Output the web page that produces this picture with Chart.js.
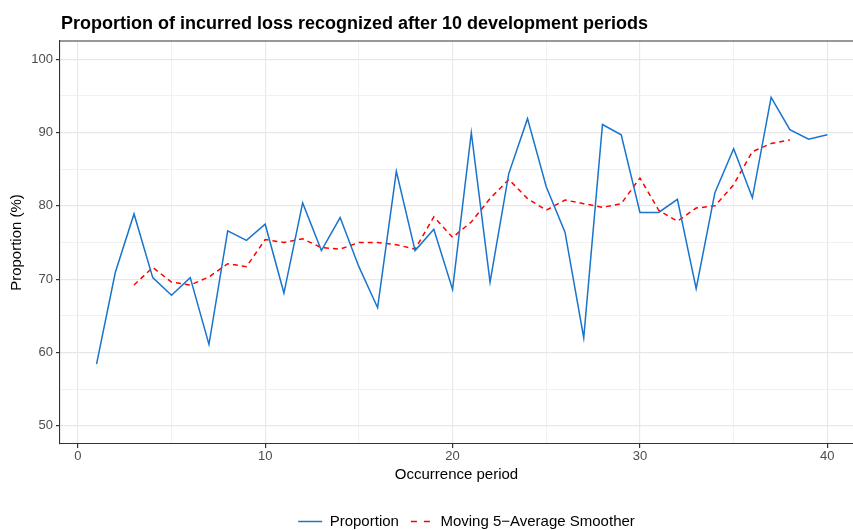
<!DOCTYPE html>
<html>
<head>
<meta charset="utf-8">
<script src="https://cdn.jsdelivr.net/npm/chart.js@4"></script>
<style>
  html, body { margin: 0; padding: 0; background: #fff; }
  #wrap { width: 853px; height: 530px; position: relative; }
</style>
</head>
<body>
<div id="wrap"><canvas id="lossChart"></canvas></div>
<script>
// occurrence periods and values
const periods = [1, 2, 3, 4, 5, 6, 7, 8, 9, 10, 11, 12, 13, 14, 15, 16, 17, 18, 19, 20,
                 21, 22, 23, 24, 25, 26, 27, 28, 29, 30, 31, 32, 33, 34, 35, 36, 37, 38, 39, 40];
const proportion = [58.4, 70.9, 78.9, 70.2, 67.8, 70.2, 61.1, 76.6, 75.3, 77.5,
                    68.1, 80.4, 73.9, 78.4, 71.7, 66.1, 84.7, 73.9, 76.8, 68.6,
                    90.0, 69.6, 84.4, 91.9, 82.6, 76.4, 62.0, 91.1, 89.7, 79.1,
                    79.1, 80.9, 68.7, 81.8, 87.8, 81.1, 94.8, 90.4, 89.1, 89.7];
// moving average: no value for the first two and last two periods
const smoother = [null, null, 69.2, 71.6, 69.6, 69.2, 70.3, 72.1, 71.7, 75.4,
                  75.0, 75.5, 74.3, 74.1, 75.0, 75.0, 74.7, 74.1, 78.5, 75.7,
                  77.8, 81.0, 83.6, 81.0, 79.4, 80.8, 80.3, 79.8, 80.3, 83.8,
                  79.4, 77.9, 79.7, 80.0, 82.9, 87.4, 88.5, 89.0, null, null];
const xTicks = [0, 5, 10, 15, 20, 25, 30, 35, 40];
const yTicks = [50, 55, 60, 65, 70, 75, 80, 85, 90, 95, 100];

const FONT = '"Liberation Sans", Arial, Helvetica, sans-serif';
Chart.defaults.font.family = FONT;

const isMajor = (v) => v % 10 === 0;
const gridColor = (ctx) => isMajor(ctx.tick.value) ? '#e8e8e8' : '#efefef';
const gridWidth = (ctx) => isMajor(ctx.tick.value) ? 1.2 : 0.9;
const tickColor = (ctx) => isMajor(ctx.tick.value) ? '#333333' : 'rgba(0,0,0,0)';

// title text, top panel border, and legend centred on the full panel
const decorations = {
  id: 'decorations',
  afterLayout(chart) {
    // the panel runs past the right edge, so centre the legend on it
    chart.legend.left += 40;
    chart.legend.right += 40;
  },
  afterDraw(chart) {
    const ctx = chart.ctx;
    const area = chart.chartArea;
    ctx.save();
    ctx.strokeStyle = '#333333';
    ctx.lineWidth = 1.1;
    ctx.beginPath();
    ctx.moveTo(area.left, area.top);
    ctx.lineTo(area.right, area.top);
    ctx.stroke();
    ctx.fillStyle = '#000000';
    ctx.font = 'bold 18px ' + FONT;
    ctx.textBaseline = 'alphabetic';
    ctx.textAlign = 'left';
    ctx.fillText('Proportion of incurred loss recognized after 10 development periods', 61, 29);
    ctx.restore();
  }
};

const data = {
  datasets: [{
    label: 'Proportion',
    data: periods.map((p, i) => ({ x: p, y: proportion[i] })),
    borderColor: '#1874CD',
    backgroundColor: '#1874CD',
    borderWidth: 1.5,
    pointRadius: 0,
    pointStyle: 'line',
    tension: 0
  }, {
    label: 'Moving 5\u2212Average Smoother',
    data: periods.map((p, i) => ({ x: p, y: smoother[i] })),
    borderColor: '#ff0000',
    backgroundColor: '#ff0000',
    borderWidth: 1.5,
    borderDash: [5, 4],
    pointRadius: 0,
    pointStyle: 'line',
    tension: 0
  }]
};

const config = {
  type: 'line',
  data: data,
  plugins: [decorations],
  options: {
    responsive: true,
    maintainAspectRatio: false,
    animation: false,
    layout: { padding: { top: 41, right: 0, bottom: -9, left: 0 } },
    plugins: {
      title: { display: false },
      tooltip: { enabled: false },
      legend: {
        position: 'bottom',
        labels: {
          usePointStyle: true,
          pointStyleWidth: 24,
          boxHeight: 15,
          padding: 10,
          color: '#000000',
          font: { size: 15 },
          generateLabels: (chart) => {
            const items = Chart.defaults.plugins.legend.labels.generateLabels(chart);
            items.forEach((item, i) => {
              item.lineWidth = 1.5;
              item.lineDash = i === 1 ? [6, 7] : [];
              item.lineDashOffset = i === 1 ? -2 : 0;
            });
            return items;
          }
        }
      }
    },
    scales: {
      x: {
        type: 'linear',
        min: -0.95,
        max: 41.37,
        afterBuildTicks: (scale) => { scale.ticks = xTicks.map(v => ({ value: v })); },
        afterFit: (scale) => { scale.height = 60; },
        grid: { color: gridColor, lineWidth: gridWidth, tickColor: tickColor, tickLength: 4 },
        border: { color: '#333333', width: 1.1 },
        ticks: {
          color: '#4d4d4d',
          font: { size: 13 },
          padding: 1,
          maxRotation: 0,
          callback: (v) => isMajor(v) ? String(v) : ''
        },
        title: {
          display: true,
          text: 'Occurrence period',
          color: '#000000',
          font: { size: 15 },
          padding: { top: 0, bottom: 20 }
        }
      },
      y: {
        type: 'linear',
        min: 47.5,
        max: 102.5,
        afterBuildTicks: (scale) => { scale.ticks = yTicks.map(v => ({ value: v })); },
        afterFit: (scale) => { scale.width = 60; },
        grid: { color: gridColor, lineWidth: gridWidth, tickColor: tickColor, tickLength: 4 },
        border: { color: '#333333', width: 1.1 },
        ticks: {
          color: '#4d4d4d',
          font: { size: 13 },
          padding: 3,
          callback: (v) => isMajor(v) ? String(v) : ''
        },
        title: {
          display: true,
          text: 'Proportion (%)',
          color: '#000000',
          font: { size: 15 },
          padding: { top: 8, bottom: 0 }
        }
      }
    }
  }
};

const lossChart = new Chart(document.getElementById('lossChart'), config);
</script>
</body>
</html>
